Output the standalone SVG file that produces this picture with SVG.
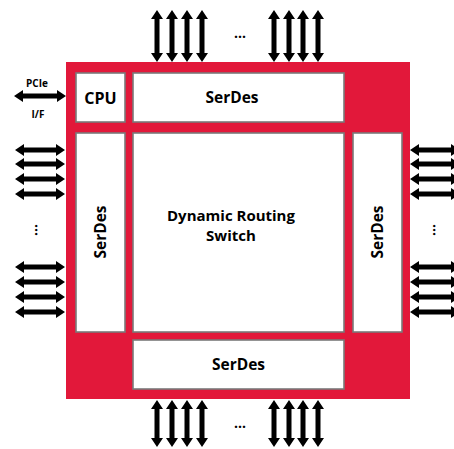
<svg xmlns="http://www.w3.org/2000/svg" width="454" height="449" viewBox="0 0 454 449">
<style>
.chip{fill:#E2183A}
.box{fill:#fff;stroke:#7a7a7a;stroke-width:1.6}
.lbl{font-family:"Open Sans","Liberation Sans",sans-serif;font-weight:bold;fill:#000;text-anchor:middle}
.ar{fill:#000}
</style>
<rect width="454" height="449" fill="#fff"/>
<g id="chip"><rect class="chip" x="66" y="62" width="344" height="337"/></g>
<g id="cpu"><rect class="box" x="76" y="73" width="49" height="49"/><text class="lbl" x="100.5" y="104" font-size="16">CPU</text></g>
<g id="serdes-top"><rect class="box" x="133" y="73" width="211" height="49"/><text class="lbl" x="232" y="103" font-size="15.5">SerDes</text></g>
<g id="serdes-left"><rect class="box" x="76" y="133" width="49" height="199"/><text class="lbl" font-size="15.5" transform="translate(106,232) rotate(-90)">SerDes</text></g>
<g id="switch"><rect class="box" x="133" y="133" width="211" height="199"/><text class="lbl" x="231" y="221" font-size="15">Dynamic Routing</text><text class="lbl" x="231" y="241" font-size="15">Switch</text></g>
<g id="serdes-right"><rect class="box" x="353" y="133" width="49" height="199"/><text class="lbl" font-size="15.5" transform="translate(383,232) rotate(-90)">SerDes</text></g>
<g id="serdes-bottom"><rect class="box" x="133" y="340" width="211" height="49"/><text class="lbl" x="238.5" y="370" font-size="15.5">SerDes</text></g>
<g id="pcie"><text class="lbl" x="37" y="87" font-size="10">PCIe</text><text class="lbl" x="38" y="118" font-size="10">I/F</text></g>
<g id="dots">
<text class="lbl" x="240" y="38" font-size="14">...</text>
<text class="lbl" x="240" y="428" font-size="14">...</text>
<text class="lbl" font-size="14" transform="translate(35,230) rotate(90)">...</text>
<text class="lbl" font-size="14" transform="translate(433,230) rotate(90)">...</text>
</g>
<g id="connectors">
<path class="ar" d="M157,10 l6,9 h-3.5 v34 h3.5 l-6,9 l-6,-9 h3.5 v-34 h-3.5z"/>
<path class="ar" d="M172,10 l6,9 h-3.5 v34 h3.5 l-6,9 l-6,-9 h3.5 v-34 h-3.5z"/>
<path class="ar" d="M187,10 l6,9 h-3.5 v34 h3.5 l-6,9 l-6,-9 h3.5 v-34 h-3.5z"/>
<path class="ar" d="M202,10 l6,9 h-3.5 v34 h3.5 l-6,9 l-6,-9 h3.5 v-34 h-3.5z"/>
<path class="ar" d="M274,10 l6,9 h-3.5 v34 h3.5 l-6,9 l-6,-9 h3.5 v-34 h-3.5z"/>
<path class="ar" d="M289,10 l6,9 h-3.5 v34 h3.5 l-6,9 l-6,-9 h3.5 v-34 h-3.5z"/>
<path class="ar" d="M303,10 l6,9 h-3.5 v34 h3.5 l-6,9 l-6,-9 h3.5 v-34 h-3.5z"/>
<path class="ar" d="M318,10 l6,9 h-3.5 v34 h3.5 l-6,9 l-6,-9 h3.5 v-34 h-3.5z"/>
<path class="ar" d="M157,400 l6,9 h-3.5 v29 h3.5 l-6,9 l-6,-9 h3.5 v-29 h-3.5z"/>
<path class="ar" d="M172,400 l6,9 h-3.5 v29 h3.5 l-6,9 l-6,-9 h3.5 v-29 h-3.5z"/>
<path class="ar" d="M187,400 l6,9 h-3.5 v29 h3.5 l-6,9 l-6,-9 h3.5 v-29 h-3.5z"/>
<path class="ar" d="M202,400 l6,9 h-3.5 v29 h3.5 l-6,9 l-6,-9 h3.5 v-29 h-3.5z"/>
<path class="ar" d="M274,400 l6,9 h-3.5 v29 h3.5 l-6,9 l-6,-9 h3.5 v-29 h-3.5z"/>
<path class="ar" d="M289,400 l6,9 h-3.5 v29 h3.5 l-6,9 l-6,-9 h3.5 v-29 h-3.5z"/>
<path class="ar" d="M303,400 l6,9 h-3.5 v29 h3.5 l-6,9 l-6,-9 h3.5 v-29 h-3.5z"/>
<path class="ar" d="M318,400 l6,9 h-3.5 v29 h3.5 l-6,9 l-6,-9 h3.5 v-29 h-3.5z"/>
<path class="ar" d="M15,150 l9,-6 v3.5 h32 v-3.5 l9,6 l-9,6 v-3.5 h-32 v3.5z"/>
<path class="ar" d="M15,164 l9,-6 v3.5 h32 v-3.5 l9,6 l-9,6 v-3.5 h-32 v3.5z"/>
<path class="ar" d="M15,179 l9,-6 v3.5 h32 v-3.5 l9,6 l-9,6 v-3.5 h-32 v3.5z"/>
<path class="ar" d="M15,194 l9,-6 v3.5 h32 v-3.5 l9,6 l-9,6 v-3.5 h-32 v3.5z"/>
<path class="ar" d="M15,267 l9,-6 v3.5 h32 v-3.5 l9,6 l-9,6 v-3.5 h-32 v3.5z"/>
<path class="ar" d="M15,282 l9,-6 v3.5 h32 v-3.5 l9,6 l-9,6 v-3.5 h-32 v3.5z"/>
<path class="ar" d="M15,297 l9,-6 v3.5 h32 v-3.5 l9,6 l-9,6 v-3.5 h-32 v3.5z"/>
<path class="ar" d="M15,312 l9,-6 v3.5 h32 v-3.5 l9,6 l-9,6 v-3.5 h-32 v3.5z"/>
<path class="ar" d="M410,150 l9,-6 v3.5 h32 v-3.5 l9,6 l-9,6 v-3.5 h-32 v3.5z"/>
<path class="ar" d="M410,164 l9,-6 v3.5 h32 v-3.5 l9,6 l-9,6 v-3.5 h-32 v3.5z"/>
<path class="ar" d="M410,179 l9,-6 v3.5 h32 v-3.5 l9,6 l-9,6 v-3.5 h-32 v3.5z"/>
<path class="ar" d="M410,194 l9,-6 v3.5 h32 v-3.5 l9,6 l-9,6 v-3.5 h-32 v3.5z"/>
<path class="ar" d="M410,267 l9,-6 v3.5 h32 v-3.5 l9,6 l-9,6 v-3.5 h-32 v3.5z"/>
<path class="ar" d="M410,282 l9,-6 v3.5 h32 v-3.5 l9,6 l-9,6 v-3.5 h-32 v3.5z"/>
<path class="ar" d="M410,297 l9,-6 v3.5 h32 v-3.5 l9,6 l-9,6 v-3.5 h-32 v3.5z"/>
<path class="ar" d="M410,312 l9,-6 v3.5 h32 v-3.5 l9,6 l-9,6 v-3.5 h-32 v3.5z"/>
<path class="ar" d="M14,96 l9,-6 v3.5 h34 v-3.5 l9,6 l-9,6 v-3.5 h-34 v3.5z"/>
</g>
</svg>
